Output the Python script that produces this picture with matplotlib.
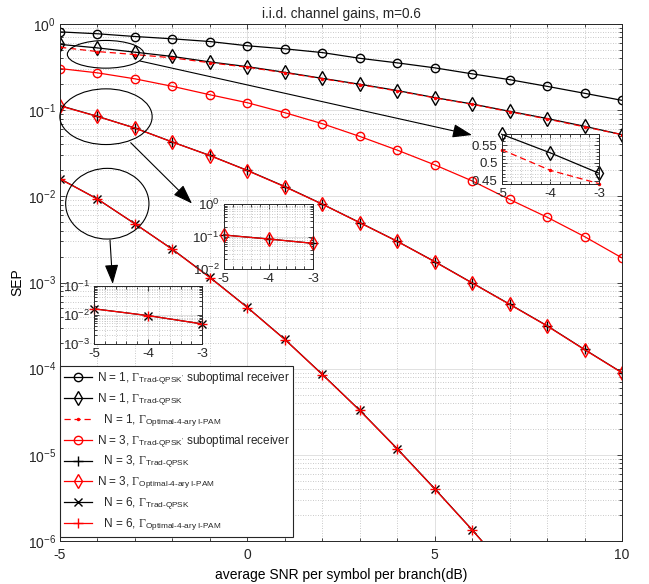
import numpy as np
import matplotlib
matplotlib.use("Agg")
import matplotlib.pyplot as plt
from matplotlib.patches import Ellipse
from matplotlib.ticker import LogLocator, MultipleLocator, FuncFormatter, NullFormatter

plt.rcParams.update({
    "font.family": ["Liberation Sans", "DejaVu Sans"],
    "mathtext.fontset": "custom",
    "mathtext.rm": "Liberation Serif",
    "mathtext.sf": "Liberation Sans",
    "mathtext.it": "Liberation Serif:italic",
    "axes.unicode_minus": False,
    "font.size": 8.5,
    "text.color": "#262626",
    "axes.edgecolor": "#262626",
    "xtick.color": "#262626",
    "ytick.color": "#262626",
})

# ---- data -------------------------------------------------------------
snr_db = np.arange(-5, 11)          # average SNR per symbol per branch (dB)
snr_db_n6 = np.arange(-5, 8)

n1_trad_sub = [0.81, 0.77, 0.716, 0.673, 0.626, 0.559, 0.515, 0.466,
               0.40, 0.354, 0.31, 0.264, 0.226, 0.189, 0.157, 0.13]
n1_trad = [0.58, 0.528, 0.471, 0.42, 0.363, 0.32, 0.275, 0.234,
           0.20, 0.169, 0.14, 0.118, 0.097, 0.08, 0.065, 0.052]
n1_opt = [0.537, 0.479, 0.442, 0.405, 0.355, 0.315, 0.272, 0.232,
          0.198, 0.167, 0.139, 0.117, 0.096, 0.079, 0.064, 0.052]
n3_trad_sub = [0.304, 0.271, 0.231, 0.189, 0.151, 0.122, 0.0935, 0.0697,
               0.0496, 0.0344, 0.0232, 0.0151, 0.0092, 0.00573, 0.00341, 0.00193]
n3_trad = [0.113, 0.0848, 0.0621, 0.0427, 0.0298, 0.0200, 0.0130, 0.00813,
           0.00496, 0.00301, 0.00175, 9.9e-4, 5.6e-4, 3.15e-4, 1.67e-4, 9.0e-5]
n3_opt = [0.112, 0.0845, 0.0619, 0.0426, 0.0297, 0.0199, 0.0129, 0.00810,
          0.00494, 0.00300, 0.00174, 9.85e-4, 5.57e-4, 3.13e-4, 1.66e-4, 8.95e-5]
n6_trad = [0.0160, 0.0093, 0.0048, 0.00243, 0.00115, 5.15e-4, 2.19e-4,
           8.6e-5, 3.29e-5, 1.18e-5, 4.05e-6, 1.35e-6, 4.3e-7]
n6_opt = [0.0159, 0.0093, 0.0048, 0.00242, 0.00114, 5.12e-4, 2.18e-4,
          8.55e-5, 3.27e-5, 1.17e-5, 4.02e-6, 1.34e-6, 4.3e-7]

labels = [
    r"N = 1, $\Gamma_{\mathsf{Trad‐QPSK'}}$ suboptimal receiver",
    r"N = 1, $\Gamma_{\mathsf{Trad‐QPSK}}$",
    r"  N = 1, $\Gamma_{\mathsf{Optimal‐4‐ary\ I‐PAM}}$",
    r"N = 3, $\Gamma_{\mathsf{Trad‐QPSK'}}$ suboptimal receiver",
    r"  N = 3, $\Gamma_{\mathsf{Trad‐QPSK}}$",
    r"N = 3, $\Gamma_{\mathsf{Optimal‐4‐ary\ I‐PAM}}$",
    r"  N = 6, $\Gamma_{\mathsf{Trad‐QPSK}}$",
    r"  N = 6, $\Gamma_{\mathsf{Optimal‐4‐ary\ I‐PAM}}$",
]

RED = "#ff0000"
LW = 0.9
styles = {
    "n1_trad_sub": dict(color="k", marker="o", ms=6, mfc="none", lw=LW),
    "n1_trad": dict(color="k", marker="d", ms=7.5, mfc="none", lw=LW),
    "n1_opt": dict(color=RED, marker=".", ms=3, ls=(0, (5, 3)), lw=LW),
    "n3_trad_sub": dict(color=RED, marker="o", ms=6, mfc="none", lw=LW),
    "n3_trad": dict(color="k", marker="+", ms=7, lw=LW),
    "n3_opt": dict(color=RED, marker="d", ms=7.5, mfc="none", lw=LW),
    "n6_trad": dict(color="k", marker="x", ms=5.5, lw=LW),
    "n6_opt": dict(color=RED, marker="+", ms=7, lw=LW),
}


def style_axes(ax, size=10):
    ax.tick_params(which="both", direction="in", top=True, right=True,
                   labelsize=size, width=0.6, pad=3)
    ax.tick_params(which="major", length=3.5)
    ax.tick_params(which="minor", length=2)
    ax.grid(True, which="major", color="#dcdcdc", lw=0.6, ls="-")
    ax.grid(True, which="minor", color="#b8b8b8", lw=0.6, ls=(0, (1, 2)))
    for s in ax.spines.values():
        s.set_linewidth(0.7)


fig = plt.figure(figsize=(6.49, 5.84), dpi=100)
ax = fig.add_axes([60 / 649, 1 - 541 / 584, 562 / 649, 517 / 584])

series = [
    (snr_db, n1_trad_sub, "n1_trad_sub"),
    (snr_db, n1_trad, "n1_trad"),
    (snr_db, n1_opt, "n1_opt"),
    (snr_db, n3_trad_sub, "n3_trad_sub"),
    (snr_db, n3_trad, "n3_trad"),
    (snr_db, n3_opt, "n3_opt"),
    (snr_db_n6, n6_trad, "n6_trad"),
    (snr_db_n6, n6_opt, "n6_opt"),
]
for (x, y, key), lab in zip(series, labels):
    ax.semilogy(x, y, label=lab, **styles[key])

ax.set_xlim(-5, 10)
ax.set_ylim(1e-6, 1)
ax.xaxis.set_major_locator(MultipleLocator(5))
ax.xaxis.set_minor_locator(MultipleLocator(1))
ax.yaxis.set_major_locator(LogLocator(base=10, numticks=10))
ax.yaxis.set_minor_locator(LogLocator(base=10, subs=np.arange(2, 10), numticks=10))
ax.yaxis.set_minor_formatter(NullFormatter())
style_axes(ax, 10)
ax.tick_params(axis="x", which="both", pad=5)
ax.set_xlabel("average SNR per symbol per branch(dB)", fontsize=10, labelpad=4)
ax.set_ylabel("SEP", fontsize=10, labelpad=2)
ax.set_title("i.i.d. channel gains, m=0.6", fontsize=9.8, pad=4)

leg = ax.legend(loc="lower left", bbox_to_anchor=(0.0, 0.008), borderaxespad=0,
                fontsize=8.5, frameon=True, fancybox=False, framealpha=1,
                edgecolor="#262626", handlelength=2.4, handletextpad=0.4,
                labelspacing=0.36, borderpad=0.3)
leg.get_frame().set_linewidth(0.8)

# ---- overlay for ellipses and arrows (pixel coordinates) -------------
ov = fig.add_axes([0, 0, 1, 1], zorder=2)
ov.set_xlim(0, 649)
ov.set_ylim(584, 0)
ov.set_xticks([])
ov.set_yticks([])
ov.axis("off")
for (cx, cy, w, h) in [(105.7, 54.3, 76.7, 27.7),
                       (106.0, 116.7, 92.3, 55.7),
                       (107.3, 203.7, 83.3, 70.7)]:
    ov.add_patch(Ellipse((cx, cy), w, h, fill=False, ec="k", lw=0.8))
for start, end in [((140, 61), (472, 135)),
                   ((130.7, 142.7), (192, 203.5)),
                   ((110, 240), (112.7, 284))]:
    ov.annotate("", xy=end, xytext=start,
                arrowprops=dict(arrowstyle="-|>,head_length=1.0,head_width=0.35",
                                color="k", lw=0.8, shrinkA=0, shrinkB=0,
                                mutation_scale=12))

# ---- insets -----------------------------------------------------------
def add_inset(rect, items, ylim, logy):
    ia = fig.add_axes(rect, zorder=3)
    for x, y, key in items:
        st = dict(styles[key])
        if logy:
            ia.semilogy(x[:3], y[:3], clip_on=False, **st)
        else:
            ia.plot(x[:3], y[:3], clip_on=False, **st)
    ia.set_xlim(-5, -3)
    ia.set_ylim(*ylim)
    ia.set_xticks([-5, -4, -3])
    ia.xaxis.set_minor_locator(MultipleLocator(0.2))
    if logy:
        ia.yaxis.set_major_locator(LogLocator(base=10, numticks=10))
        ia.yaxis.set_minor_locator(LogLocator(base=10, subs=np.arange(2, 10), numticks=10))
        ia.yaxis.set_minor_formatter(NullFormatter())
    style_axes(ia, 9.5)
    return ia


ins_a = add_inset([501.7 / 649, 1 - 184.3 / 584, 97.3 / 649, 50 / 584],
                  [(snr_db, n1_trad, "n1_trad"), (snr_db, n1_opt, "n1_opt")],
                  (0.44, 0.58), False)
ins_a.set_yticks([0.45, 0.5, 0.55])
ins_a.yaxis.set_minor_locator(MultipleLocator(0.01))
ins_a.yaxis.set_major_formatter(FuncFormatter(lambda v, p: f"{v:g}"))

add_inset([223.7 / 649, 1 - 269 / 584, 89.6 / 649, 64.7 / 584],
          [(snr_db, n3_trad, "n3_trad"), (snr_db, n3_opt, "n3_opt")],
          (1e-2, 1), True)
add_inset([94 / 649, 1 - 343.7 / 584, 108.3 / 649, 58 / 584],
          [(snr_db_n6, n6_trad, "n6_trad"), (snr_db_n6, n6_opt, "n6_opt")],
          (1e-3, 1e-1), True)

fig.savefig("out.png", dpi=100)
